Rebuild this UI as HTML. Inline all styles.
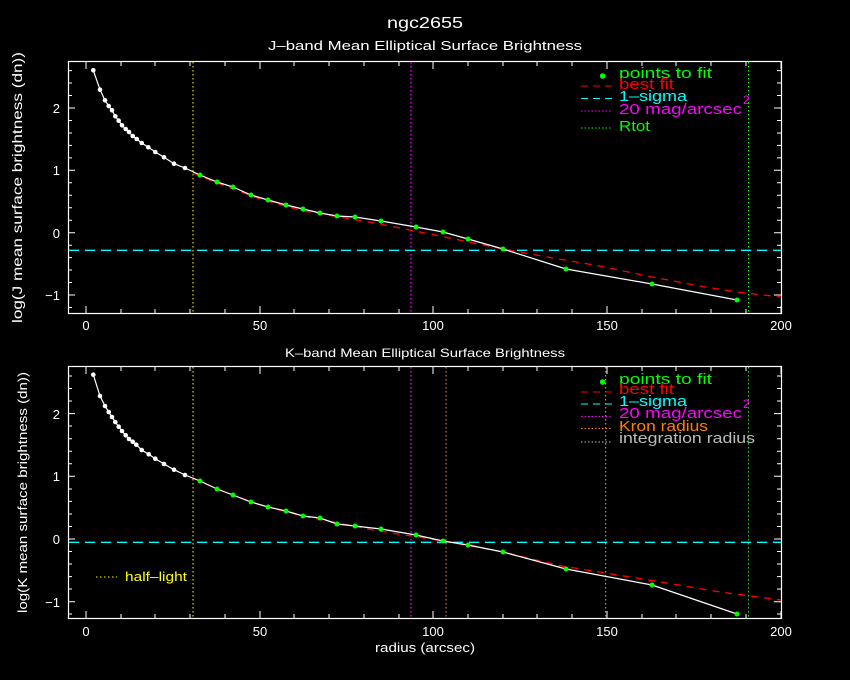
<!DOCTYPE html>
<html><head><style>body{margin:0;background:#000}svg{display:block}text{font-family:"Liberation Sans",sans-serif}</style></head><body>
<svg width="850" height="680" xmlns="http://www.w3.org/2000/svg">
<rect width="850" height="680" fill="#000"/>
<text x="387" y="28" fill="#fff" font-size="16" textLength="76" lengthAdjust="spacingAndGlyphs">ngc2655</text>
<text x="268" y="50" fill="#fff" font-size="13" textLength="314" lengthAdjust="spacingAndGlyphs">J–band Mean Elliptical Surface Brightness</text>
<text x="285" y="357" fill="#fff" font-size="12" textLength="280" lengthAdjust="spacingAndGlyphs">K–band Mean Elliptical Surface Brightness</text>
<text x="375" y="652" fill="#fff" font-size="13" textLength="100" lengthAdjust="spacingAndGlyphs">radius (arcsec)</text>
<text transform="translate(22,323) rotate(-90)" fill="#fff" font-size="14" textLength="271" lengthAdjust="spacingAndGlyphs">log(J mean surface brightness (dn))</text>
<text transform="translate(27,613) rotate(-90)" fill="#fff" font-size="13" textLength="241" lengthAdjust="spacingAndGlyphs">log(K mean surface brightness (dn))</text>

<g stroke="#fff" stroke-width="1.2" fill="none">
<rect x="68.5" y="61.5" width="713" height="252"/>
<rect x="68.5" y="366.5" width="713" height="252"/>
</g>
<g stroke="#fff" stroke-width="1">
<path id="xt" d="M86,313v-7M86,62v7M260,313v-7M260,62v7M433,313v-7M433,62v7M607,313v-7M607,62v7M781,313v-7M781,62v7
M121,313v-4M121,62v4M155,313v-4M155,62v4M190,313v-4M190,62v4M225,313v-4M225,62v4
M294,313v-4M294,62v4M329,313v-4M329,62v4M364,313v-4M364,62v4M399,313v-4M399,62v4
M468,313v-4M468,62v4M503,313v-4M503,62v4M537,313v-4M537,62v4M572,313v-4M572,62v4
M642,313v-4M642,62v4M676,313v-4M676,62v4M711,313v-4M711,62v4M746,313v-4M746,62v4"/>
<use href="#xt" y="305"/>
<path d="M68,108h7M781,108h-7M68,170.3h7M781,170.3h-7M68,232.7h7M781,232.7h-7M68,295h7M781,295h-7
M68,70.6h4M781,70.6h-4M68,83h4M781,83h-4M68,95.5h4M781,95.5h-4M68,120.5h4M781,120.5h-4M68,133h4M781,133h-4M68,145.4h4M781,145.4h-4M68,157.9h4M781,157.9h-4
M68,182.8h4M781,182.8h-4M68,195.3h4M781,195.3h-4M68,207.7h4M781,207.7h-4M68,220.2h4M781,220.2h-4
M68,245.2h4M781,245.2h-4M68,257.6h4M781,257.6h-4M68,270h4M781,270h-4M68,282.5h4M781,282.5h-4M68,307.5h4M781,307.5h-4"/>
<path d="M68,413.6h7M781,413.6h-7M68,476.3h7M781,476.3h-7M68,539h7M781,539h-7M68,601.7h7M781,601.7h-7
M68,376h4M781,376h-4M68,388.5h4M781,388.5h-4M68,401h4M781,401h-4M68,426h4M781,426h-4M68,438.7h4M781,438.7h-4M68,451.2h4M781,451.2h-4M68,463.8h4M781,463.8h-4
M68,489h4M781,489h-4M68,501.4h4M781,501.4h-4M68,514h4M781,514h-4M68,526.5h4M781,526.5h-4
M68,551.5h4M781,551.5h-4M68,564h4M781,564h-4M68,576.6h4M781,576.6h-4M68,589h4M781,589h-4M68,614h4M781,614h-4"/>
</g>
<g fill="#fff" font-size="13" text-anchor="middle">
<text x="86" y="330">0</text><text x="260" y="330">50</text><text x="433" y="330">100</text><text x="607" y="330">150</text><text x="781" y="330">200</text>
<text x="86" y="636">0</text><text x="260" y="636">50</text><text x="433" y="636">100</text><text x="607" y="636">150</text><text x="781" y="636">200</text>
</g>
<g fill="#fff" font-size="13" text-anchor="end">
<text x="60" y="113">2</text><text x="60" y="175">1</text><text x="60" y="238">0</text><text x="60" y="300">−1</text>
<text x="60" y="419">2</text><text x="60" y="481">1</text><text x="60" y="544">0</text><text x="60" y="607">−1</text>
</g>

<line x1="193" y1="62" x2="193" y2="313" stroke="#ff0" stroke-dasharray="1.5,2.5"/>
<line x1="411" y1="62" x2="411" y2="313" stroke="#f0f" stroke-dasharray="1.5,2.5" stroke-width="1.3"/>
<line x1="748.5" y1="62" x2="748.5" y2="313" stroke="#0f0" stroke-dasharray="1.5,2.5"/>
<line x1="69" y1="250.3" x2="781" y2="250.3" stroke="#0ff" stroke-dasharray="10,6" stroke-width="1.3"/>
<polyline fill="none" stroke="#f00" stroke-dasharray="7,6" stroke-width="1.3" points="193,173 217,183 260,199 303,211 373,222.7 430,234 503,249 547,257 600,266 652,277 700,286 737,292 781,297"/>
<polyline fill="none" stroke="#fff" stroke-width="1.2" points="93.3,70.3 100,89.7 105,100.3 108.7,106 112,110.3 115.3,116.3 118.7,120.7 122,125.3 125.7,129 129,132 132.7,136 136.7,139 141.7,143 148.3,147.3 155.3,152 164,157.3 174,163.7 185,168 200,175 217,182 233,187 251,195 268,200 286,205 303,209 320,213 337,216 355,217 381,221 416,227 443,232 468,239 503,249 566,269 652,284 737,300"/>
<g fill="#fff"><circle cx="93.3" cy="70.3" r="2.3"/><circle cx="100" cy="89.7" r="2.3"/><circle cx="105" cy="100.3" r="2.3"/><circle cx="108.7" cy="106" r="2.3"/><circle cx="112" cy="110.3" r="2.3"/><circle cx="115.3" cy="116.3" r="2.3"/><circle cx="118.7" cy="120.7" r="2.3"/><circle cx="122" cy="125.3" r="2.3"/><circle cx="125.7" cy="129" r="2.3"/><circle cx="129" cy="132" r="2.3"/><circle cx="132.7" cy="136" r="2.3"/><circle cx="136.7" cy="139" r="2.3"/><circle cx="141.7" cy="143" r="2.3"/><circle cx="148.3" cy="147.3" r="2.3"/><circle cx="155.3" cy="152" r="2.3"/><circle cx="164" cy="157.3" r="2.3"/><circle cx="174" cy="163.7" r="2.3"/><circle cx="185" cy="168" r="2.3"/></g>
<g fill="#0f0"><circle cx="200" cy="175" r="2.5"/><circle cx="217" cy="182" r="2.5"/><circle cx="233" cy="187" r="2.5"/><circle cx="251" cy="195" r="2.5"/><circle cx="268" cy="200" r="2.5"/><circle cx="286" cy="205" r="2.5"/><circle cx="303" cy="209" r="2.5"/><circle cx="320" cy="213" r="2.5"/><circle cx="337" cy="216" r="2.5"/><circle cx="355" cy="217" r="2.5"/><circle cx="381" cy="221" r="2.5"/><circle cx="416" cy="227" r="2.5"/><circle cx="443" cy="232" r="2.5"/><circle cx="468" cy="239" r="2.5"/><circle cx="503" cy="249" r="2.5"/><circle cx="566" cy="269" r="2.5"/><circle cx="652" cy="284" r="2.5"/><circle cx="737" cy="300" r="2.5"/></g>
<circle cx="602.7" cy="76" r="2.8" fill="#0f0"/>
<line x1="581" y1="86" x2="612" y2="86" stroke="#f00" stroke-dasharray="7,5"/>
<line x1="581" y1="98.5" x2="612" y2="98.5" stroke="#0ff" stroke-dasharray="7,5"/>
<line x1="581" y1="111" x2="612" y2="111" stroke="#f0f" stroke-dasharray="1.5,2"/>
<line x1="581" y1="128" x2="612" y2="128" stroke="#0f0" stroke-dasharray="1.5,2"/>
<g font-size="15" lengthAdjust="spacingAndGlyphs">
<text x="619" y="78" fill="#0f0" textLength="93" lengthAdjust="spacingAndGlyphs">points to fit</text>
<text x="619" y="89" fill="#f00" textLength="55" lengthAdjust="spacingAndGlyphs">best fit</text>
<text x="619" y="101" fill="#0ff" textLength="68" lengthAdjust="spacingAndGlyphs">1–sigma</text>
<text x="619" y="114" fill="#f0f" textLength="123" lengthAdjust="spacingAndGlyphs">20 mag/arcsec</text><text x="743" y="104" fill="#f0f" font-size="12">2</text>
<text x="619" y="131" fill="#0f0" textLength="31" lengthAdjust="spacingAndGlyphs">Rtot</text>
</g>

<line x1="193" y1="367" x2="193" y2="618" stroke="#ff0" stroke-dasharray="1.5,2.5"/>
<line x1="411" y1="367" x2="411" y2="618" stroke="#f0f" stroke-dasharray="1.5,2.5" stroke-width="1.3"/>
<line x1="446" y1="367" x2="446" y2="618" stroke="#ff8000" stroke-dasharray="1.5,2.5"/>
<line x1="605.7" y1="367" x2="605.7" y2="618" stroke="#bbb" stroke-dasharray="1.5,2.5"/>
<line x1="748.5" y1="367" x2="748.5" y2="618" stroke="#0f0" stroke-dasharray="1.5,2.5"/>
<line x1="69" y1="542.3" x2="781" y2="542.3" stroke="#0ff" stroke-dasharray="10,6" stroke-width="1.3"/>
<polyline fill="none" stroke="#f00" stroke-dasharray="7,6" stroke-width="1.3" points="193,478 217,489 260,505 303,516 373,530 443,541 503,552 560,565.7 653,580.7 720,592 781,600"/>
<polyline fill="none" stroke="#fff" stroke-width="1.2" points="93.3,374.7 100,396 105,406 108.7,412 112,417 115.3,422 118.7,426.7 122,431 125.7,435.3 129,439 132.7,441.7 136.3,444.7 141.7,450 148.7,454.3 155.3,458.7 164,464 174,469.7 185,475 200,481 217,489 233,495 251,502 268,507 286,511 303,516 320,518 337,524 355,526 381,529 416,535 443,541 468,545 503,552 566,569 652,585 737,614"/>
<g fill="#fff"><circle cx="93.3" cy="374.7" r="2.3"/><circle cx="100" cy="396" r="2.3"/><circle cx="105" cy="406" r="2.3"/><circle cx="108.7" cy="412" r="2.3"/><circle cx="112" cy="417" r="2.3"/><circle cx="115.3" cy="422" r="2.3"/><circle cx="118.7" cy="426.7" r="2.3"/><circle cx="122" cy="431" r="2.3"/><circle cx="125.7" cy="435.3" r="2.3"/><circle cx="129" cy="439" r="2.3"/><circle cx="132.7" cy="441.7" r="2.3"/><circle cx="136.3" cy="444.7" r="2.3"/><circle cx="141.7" cy="450" r="2.3"/><circle cx="148.7" cy="454.3" r="2.3"/><circle cx="155.3" cy="458.7" r="2.3"/><circle cx="164" cy="464" r="2.3"/><circle cx="174" cy="469.7" r="2.3"/><circle cx="185" cy="475" r="2.3"/></g>
<g fill="#0f0"><circle cx="200" cy="481" r="2.5"/><circle cx="217" cy="489" r="2.5"/><circle cx="233" cy="495" r="2.5"/><circle cx="251" cy="502" r="2.5"/><circle cx="268" cy="507" r="2.5"/><circle cx="286" cy="511" r="2.5"/><circle cx="303" cy="516" r="2.5"/><circle cx="320" cy="518" r="2.5"/><circle cx="337" cy="524" r="2.5"/><circle cx="355" cy="526" r="2.5"/><circle cx="381" cy="529" r="2.5"/><circle cx="416" cy="535" r="2.5"/><circle cx="443" cy="541" r="2.5"/><circle cx="468" cy="545" r="2.5"/><circle cx="503" cy="552" r="2.5"/><circle cx="566" cy="569" r="2.5"/><circle cx="652" cy="585" r="2.5"/><circle cx="737" cy="614" r="2.5"/></g>
<circle cx="602.7" cy="382" r="2.8" fill="#0f0"/>
<line x1="581" y1="392" x2="612" y2="392" stroke="#f00" stroke-dasharray="7,5"/>
<line x1="581" y1="404" x2="612" y2="404" stroke="#0ff" stroke-dasharray="7,5"/>
<line x1="581" y1="416.5" x2="612" y2="416.5" stroke="#f0f" stroke-dasharray="1.5,2"/>
<line x1="581" y1="428.5" x2="612" y2="428.5" stroke="#ff8000" stroke-dasharray="1.5,2"/>
<line x1="581" y1="442" x2="612" y2="442" stroke="#bbb" stroke-dasharray="1.5,2"/>
<g font-size="15">
<text x="619" y="384" fill="#0f0" textLength="93" lengthAdjust="spacingAndGlyphs">points to fit</text>
<text x="619" y="394" fill="#f00" textLength="55" lengthAdjust="spacingAndGlyphs">best fit</text>
<text x="619" y="406" fill="#0ff" textLength="68" lengthAdjust="spacingAndGlyphs">1–sigma</text>
<text x="619" y="418" fill="#f0f" textLength="123" lengthAdjust="spacingAndGlyphs">20 mag/arcsec</text><text x="743" y="408" fill="#f0f" font-size="12">2</text>
<text x="619" y="431" fill="#ff8000" textLength="89" lengthAdjust="spacingAndGlyphs">Kron radius</text>
<text x="619" y="443" fill="#bbb" textLength="136" lengthAdjust="spacingAndGlyphs">integration radius</text>
</g>
<line x1="96" y1="577" x2="117" y2="577" stroke="#ff0" stroke-dasharray="1.5,2.5"/>
<text x="125" y="581" fill="#ff0" font-size="13" textLength="62" lengthAdjust="spacingAndGlyphs">half–light</text>
</svg>
</body></html>
